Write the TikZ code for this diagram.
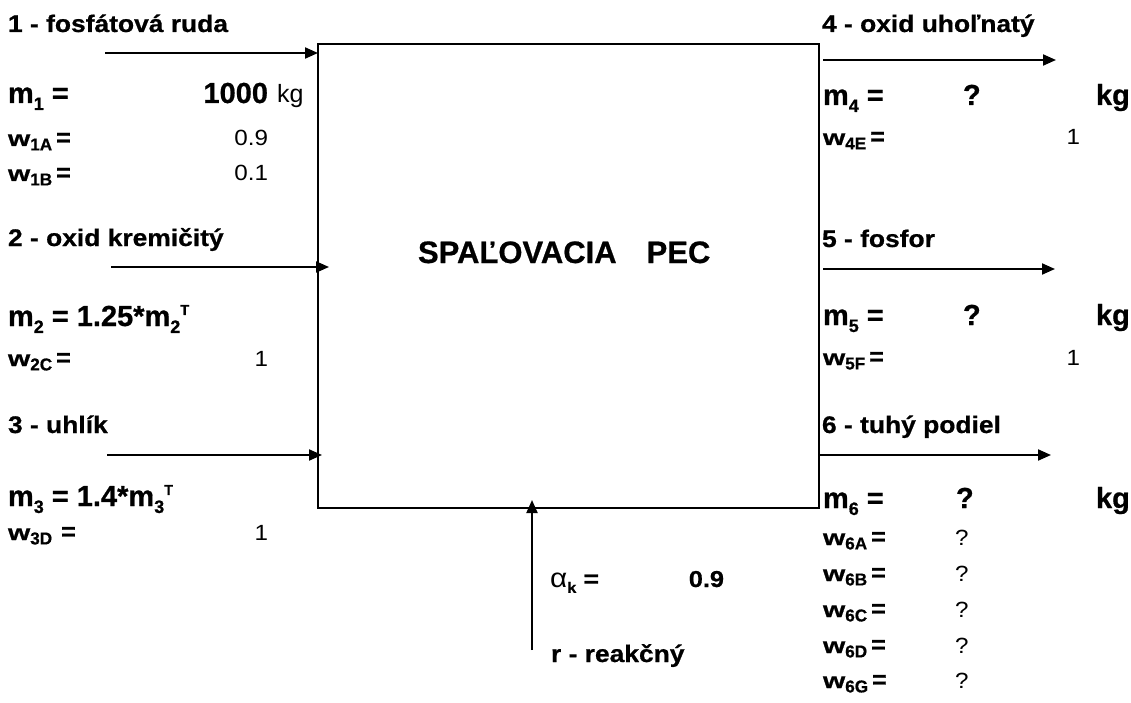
\documentclass[tikz,border=0pt]{standalone}
\usepackage{fontspec}
\setmainfont{Liberation Sans}[BoldFeatures={FakeBold=0.7}]
\newfontfamily\widefont{Liberation Sans}[FakeStretch=1.1,BoldFeatures={FakeBold=0.7}]
\usetikzlibrary{arrows.meta}
\newcommand\fsz[1]{\fontsize{#1}{#1}\selectfont}
\newcommand\msub[1]{\raisebox{-0.24em}{\scalebox{0.62}{#1}}}
\newcommand\wsub[1]{\raisebox{-0.2em}{\scalebox{0.78}{#1}}}
\newcommand\msup[1]{\raisebox{0.38em}{\scalebox{0.5}{#1}}}
\newcommand\ww{\scalebox{1.3}[1]{w}}
\newcommand\weq{\hspace{4pt}{\fontsize{25pt}{25pt}\selectfont =}}
\begin{document}
\begin{tikzpicture}[x=1pt,y=-1pt,
  every node/.style={inner sep=0pt, outer sep=0pt},
  ttl/.style={anchor=base west, font=\widefont\fsz{24pt}\bfseries},
  mrow/.style={anchor=base west, font=\fsz{29pt}\bfseries},
  wrow/.style={anchor=base west, font=\fsz{22pt}\bfseries},
  valr/.style={anchor=base east, font=\widefont\fsz{22pt}},
  valw/.style={anchor=base west, font=\widefont\fsz{22pt}},
  bigv/.style={anchor=base east, font=\fsz{29pt}\bfseries},
  bigw/.style={anchor=base west, font=\fsz{29pt}\bfseries},
  botl/.style={anchor=base west, font=\widefont\fsz{24pt}\bfseries},
  flow/.style={line width=2pt, -{Triangle[length=13pt,width=11pt]}},
]
\useasboundingbox (0,0) rectangle (1131,703);

% furnace box
\node[draw, line width=2.4pt, minimum width=501pt, minimum height=464pt,
      anchor=north west] (pec) at (318,44) {};
\node[anchor=base west, font=\fsz{31pt}\bfseries] (pectxt) at (418,263)
  {SPAĽOVACIA\hspace{30pt}PEC};

% stream 1
\node[ttl] (t1) at (8,32) {1 - fosfátová ruda};
\coordinate (s1a) at (105,53);
\coordinate (s1b) at (318,53);
\draw[flow] (s1a) -- (s1b);
\node[mrow] (m1) at (8,103) {m\msub{1} =};
\node[bigv] (m1v) at (268,103) {1000};
\node[anchor=base west, font=\fsz{25pt}] (m1u) at (277,103) {kg};
\node[wrow] (w1a) at (8,146) {\ww\wsub{1A}\weq};
\node[valr] (w1av) at (268,146) {0.9};
\node[wrow] (w1b) at (8,181) {\ww\wsub{1B}\weq};
\node[valr] (w1bv) at (268,181) {0.1};

% stream 2
\node[ttl] (t2) at (8,246) {2 - oxid kremičitý};
\coordinate (s2a) at (111,267);
\coordinate (s2b) at (329,267);
\draw[flow] (s2a) -- (s2b);
\node[mrow] (m2) at (8,326) {m\msub{2} = 1.25*m\msub{2}\msup{T}};
\node[wrow] (w2c) at (8,366) {\ww\wsub{2C}\weq};
\node[valr] (w2cv) at (268,366) {1};

% stream 3
\node[ttl] (t3) at (8,433) {3 - uhlík};
\coordinate (s3a) at (107,455);
\coordinate (s3b) at (322,455);
\draw[flow] (s3a) -- (s3b);
\node[mrow] (m3) at (8,506) {m\msub{3} = 1.4*m\msub{3}\msup{T}};
\node[wrow] (w3d) at (8,540) {\ww\wsub{3D}\hspace{5pt}\weq};
\node[valr] (w3dv) at (268,540) {1};

% stream 4
\node[ttl] (t4) at (822,32) {4 - oxid uhoľnatý};
\coordinate (s4a) at (823,60);
\coordinate (s4b) at (1056,60);
\draw[flow] (s4a) -- (s4b);
\node[mrow] (m4) at (823,105) {m\msub{4} =};
\node[bigw] (m4v) at (963,105) {?};
\node[bigw] (m4u) at (1096,105) {kg};
\node[wrow] (w4e) at (823,145) {\ww\wsub{4E}\weq};
\node[valr] (w4ev) at (1080,145) {1};

% stream 5
\node[ttl] (t5) at (822,247) {5 - fosfor};
\coordinate (s5a) at (823,269);
\coordinate (s5b) at (1055,269);
\draw[flow] (s5a) -- (s5b);
\node[mrow] (m5) at (823,325) {m\msub{5} =};
\node[bigw] (m5v) at (963,325) {?};
\node[bigw] (m5u) at (1096,325) {kg};
\node[wrow] (w5f) at (823,365) {\ww\wsub{5F}\weq};
\node[valr] (w5fv) at (1080,365) {1};

% stream 6
\node[ttl] (t6) at (822,433) {6 - tuhý podiel};
\coordinate (s6a) at (820,455);
\coordinate (s6b) at (1051,455);
\draw[flow] (s6a) -- (s6b);
\node[mrow] (m6) at (823,508) {m\msub{6} =};
\node[bigw] (m6v) at (956,508) {?};
\node[bigw] (m6u) at (1096,508) {kg};
\node[wrow] (w6a) at (823,545) {\ww\wsub{6A}\weq};
\node[valw] (w6av) at (955,545) {?};
\node[wrow] (w6b) at (823,581) {\ww\wsub{6B}\weq};
\node[valw] (w6bv) at (955,581) {?};
\node[wrow] (w6c) at (823,617) {\ww\wsub{6C}\weq};
\node[valw] (w6cv) at (955,617) {?};
\node[wrow] (w6d) at (823,653) {\ww\wsub{6D}\weq};
\node[valw] (w6dv) at (955,653) {?};
\node[wrow] (w6g) at (823,688) {\ww\wsub{6G}\weq};
\node[valw] (w6gv) at (955,688) {?};

% reaction stream
\coordinate (ra) at (532,650);
\coordinate (rb) at (532,500);
\draw[flow] (ra) -- (rb);
\node[botl] (alpha) at (550,587) {{\mdseries\fontsize{27pt}{27pt}\selectfont α}\msub{k} =};
\node[anchor=base east, font=\widefont\fsz{23pt}\bfseries] (alphav) at (724,587) {0.9};
\node[botl] (r) at (551,662) {r - reakčný};
\end{tikzpicture}
\end{document}
